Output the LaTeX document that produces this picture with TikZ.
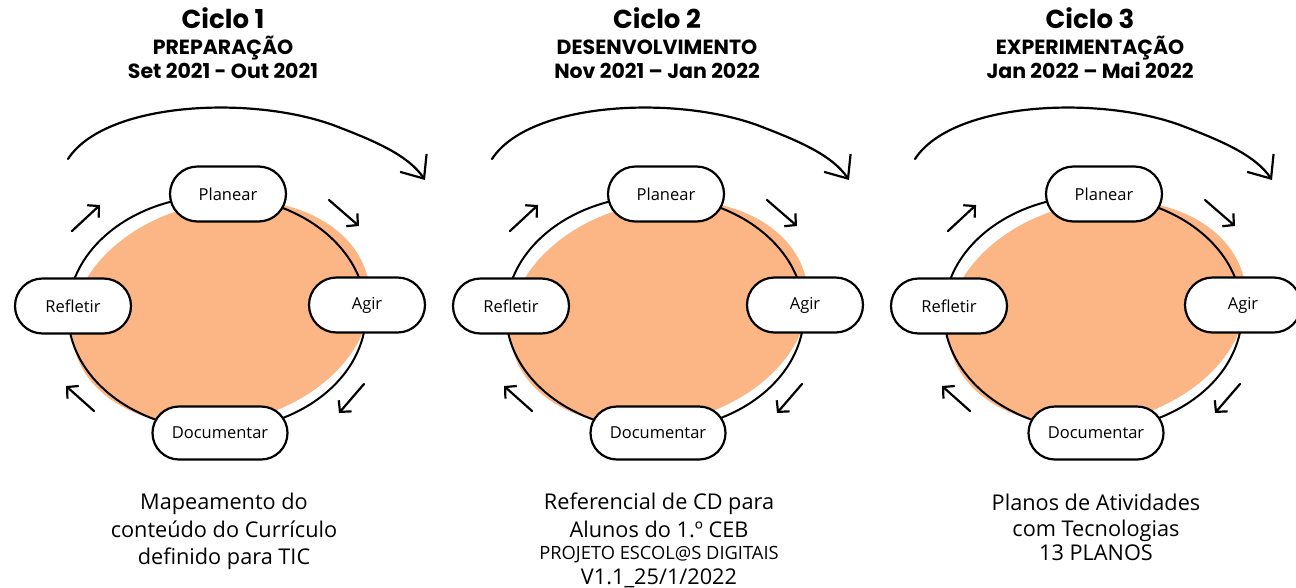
\documentclass[tikz,border=0pt]{standalone}
\usepackage{fontspec}
\setmainfont{Open Sans}
\newfontfamily\titlefont{Poppins}
\usetikzlibrary{shapes.misc,arrows.meta}

\definecolor{cycleorange}{RGB}{252,182,134}

\tikzset{
  stage/.style={draw, line width=2.2pt, fill=white, rounded rectangle,
    minimum width=120pt, minimum height=55pt, inner sep=2pt,
    font=\fontsize{16.5}{18}\selectfont},
  smallarrow/.style={line width=2.2pt, line cap=round,
    -{Straight Barb[length=8pt,width=17pt,line width=2.2pt]}},
  bigarrow/.style={line width=2.2pt, line cap=round,
    -{Straight Barb[length=19pt,width=32pt,line width=2.2pt]}},
  cycletitle/.style={anchor=base, inner sep=0pt,
    font=\titlefont\bfseries\fontsize{26}{28}\selectfont},
  phase/.style={anchor=base, inner sep=0pt,
    font=\titlefont\bfseries\fontsize{20.5}{22}\selectfont},
  outcome/.style={anchor=north, inner sep=0pt, align=center,
    font=\fontsize{21.7}{27.5}\selectfont}
}

\begin{document}
\begin{tikzpicture}[x=1pt,y=-1pt]
  \useasboundingbox (0,0) rectangle (1296,587);

  % titles
  \foreach \i/\tx/\phase/\dates in {1/223/PREPARAÇÃO/Set 2021 - Out 2021,
      2/657/DESENVOLVIMENTO/Nov 2021 – Jan 2022,
      3/1090/EXPERIMENTAÇÃO/Jan 2022 – Mai 2022}{
    \node[cycletitle] (title\i) at (\tx,28) {Ciclo \i};
    \node[phase] (phase\i) at (\tx,54) {\phase};
    \node[phase] (dates\i) at (\tx,78) {\dates};
  }

  % big arrow over each cycle
  \foreach \ax in {0,424,847}{
    \begin{scope}[shift={(\ax,0)}]
      \draw[bigarrow] (68,159) .. controls (105,102) and (250,95) .. (333,125)
        .. controls (375,141) and (408,155) .. (425,180);
    \end{scope}
  }

  % the cycles
  \foreach \i/\cx in {1/220,2/658,3/1096}{
    \begin{scope}[shift={(\cx,313)}]
      \fill[cycleorange, rotate=13] (1,0) ellipse [x radius=151, y radius=110];
      \draw[line width=2pt] (-3,0) ellipse [x radius=149, y radius=117];
      \node[stage] (plan\i) at (8,-119) {Planear};
      \node[stage] (act\i) at (147,-8) {Agir};
      \node[stage, minimum width=139pt, minimum height=53pt] (doc\i) at (0,120) {Documentar};
      \node[stage] (refl\i) at (-147,-7) {Refletir};
      \draw[smallarrow] (-148,-82) -- (-120,-108);
      \draw[smallarrow] (109,-113) -- (139,-87);
      \draw[smallarrow] (144,71) -- (119,100);
      \draw[smallarrow] (-126,98) -- (-154,73);
    \end{scope}
  }

  % outcomes
  \node[outcome] (out1) at (224,493) {Mapeamento do\\conteúdo do Currículo\\definido para TIC};
  \node[outcome] (out2) at (659,493) {Referencial de CD para\\Alunos do 1.º CEB\\[-5pt]
    {\fontsize{18.3}{20}\selectfont PROJETO ESCOL@S DIGITAIS}\\[-3pt]V1.1\_25/1/2022};
  \node[outcome] (out3) at (1096,494) {Planos de Atividades\\[-2pt]com Tecnologias\\[-3pt]13 PLANOS};
\end{tikzpicture}
\end{document}
